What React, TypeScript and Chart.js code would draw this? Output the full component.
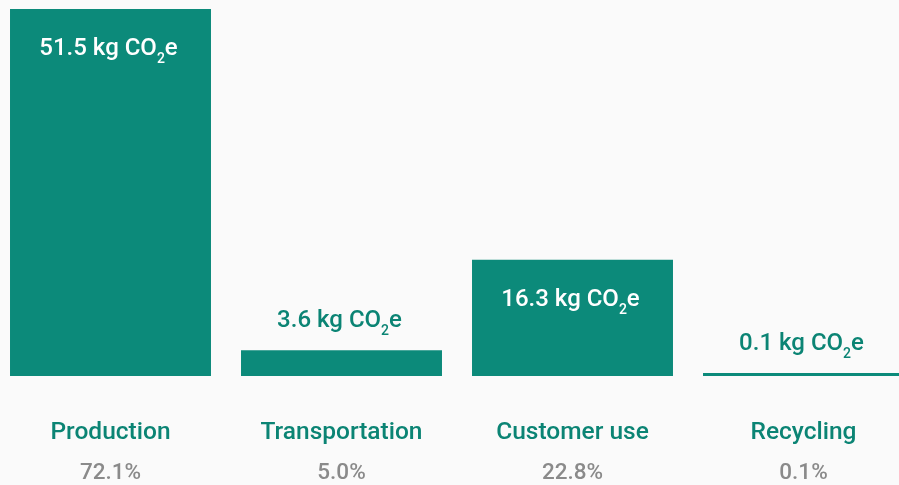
import React, { useEffect, useRef } from "react";
import { Chart, registerables } from "chart.js";

Chart.register(...registerables);

const categories = ["Production", "Transportation", "Customer use", "Recycling"];
const emissionsKg = [51.5, 3.6, 16.3, 0.1];
const shareLabels = ["72.1%", "5.0%", "22.8%", "0.1%"];
const valueUnit = " kg CO";
const valueSub = "2";
const valueSuffix = "e";

const TEAL = "#0c8a7a";
const TEXT_TEAL = "#0b8474";
const GREY = "#8a8a8a";
const FONT = "Roboto, 'Noto Sans', sans-serif";

const valueLabelPlugin = {
  id: "valueLabels",
  afterDatasetsDraw(chart: any) {
    const { ctx } = chart;
    const meta = chart.getDatasetMeta(0);
    const ds = chart.data.datasets[0].data as number[];
    meta.data.forEach((bar: any, i: number) => {
      const { x, y, base } = bar.getProps(["x", "y", "base"], true);
      const h = base - y;
      const inside = h > 60;
      const main = `${ds[i]}${valueUnit}`;
      const mainFont = `500 24px ${FONT}`;
      const subFont = `500 14px ${FONT}`;
      ctx.save();
      ctx.font = mainFont;
      const w1 = ctx.measureText(main).width;
      const w3 = ctx.measureText(valueSuffix).width;
      ctx.font = subFont;
      const w2 = ctx.measureText(valueSub).width;
      const total = w1 + w2 + w3;
      const sx = x - total / 2 - 2;
      const baseline = inside ? y + 46 : y - 23;
      ctx.fillStyle = inside ? "#ffffff" : TEXT_TEAL;
      ctx.textBaseline = "alphabetic";
      ctx.textAlign = "left";
      ctx.font = mainFont;
      ctx.fillText(main, sx, baseline);
      ctx.font = subFont;
      ctx.fillText(valueSub, sx + w1, baseline + 8);
      ctx.font = mainFont;
      ctx.fillText(valueSuffix, sx + w1 + w2, baseline);
      ctx.restore();
    });
  },
};

export default function App() {
  const canvasRef = useRef<HTMLCanvasElement | null>(null);

  useEffect(() => {
    if (!canvasRef.current) return;
    const chart = new Chart(canvasRef.current, {
      type: "bar",
      data: {
        labels: categories,
        datasets: [
          {
            data: emissionsKg,
            backgroundColor: TEAL,
            borderWidth: 0,
            barPercentage: 0.87,
            categoryPercentage: 1,
            minBarLength: 3,
          },
        ],
      },
      options: {
        animation: false,
        responsive: true,
        maintainAspectRatio: false,
        layout: { padding: { top: 9, bottom: 2, left: 0, right: 0 } },
        plugins: { legend: { display: false }, tooltip: { enabled: false } },
        scales: {
          y: { display: false, min: 0, max: 51.5 },
          x: {
            position: "bottom",
            grid: { display: false },
            border: { display: false },
            afterFit: (scale: any) => {
              scale.height = 72;
            },
            ticks: {
              color: TEXT_TEAL,
              font: { family: FONT, size: 24.5, weight: 500 },
              padding: 34,
              maxRotation: 0,
              autoSkip: false,
            },
          },
          x2: {
            type: "category",
            labels: shareLabels,
            position: "bottom",
            grid: { display: false },
            border: { display: false },
            afterFit: (scale: any) => {
              scale.height = 35;
            },
            ticks: {
              color: GREY,
              font: { family: FONT, size: 22.5, weight: 500 },
              padding: 4,
              maxRotation: 0,
              autoSkip: false,
            },
          },
        },
      },
      plugins: [valueLabelPlugin],
    } as any);
    return () => chart.destroy();
  }, []);

  return (
    <div style={{ position: "fixed", inset: 0, overflow: "hidden", background: "#fafafa" }}>
      <div style={{ position: "absolute", left: -5, top: 0, width: 924, height: 485 }}>
        <canvas ref={canvasRef} />
      </div>
    </div>
  );
}
